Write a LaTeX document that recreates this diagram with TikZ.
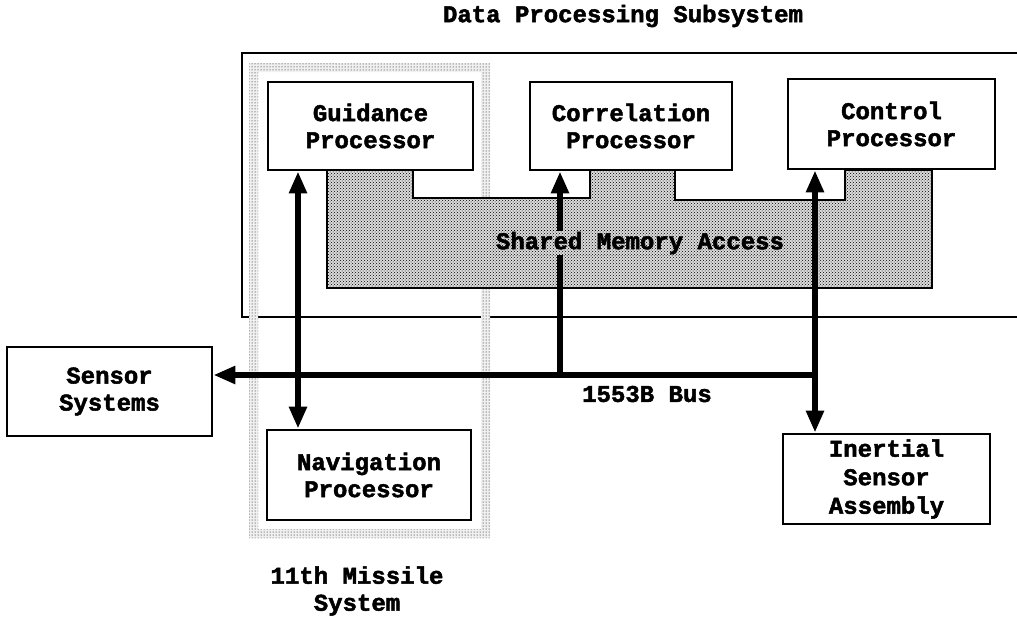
\documentclass[tikz,border=0pt]{standalone}
\usepackage{fontspec}
\setmonofont[BoldFeatures={FakeBold=2}]{Liberation Mono}
\usetikzlibrary{arrows.meta,patterns}
\begin{document}
\begin{tikzpicture}[x=1pt,y=-1pt,
  font=\ttfamily\bfseries\fontsize{24}{27}\selectfont,
  box/.style={draw, line width=2.8pt, fill=white, align=center, inner sep=0pt},
  thk/.style={line width=5.5pt},
  onetip/.style={thk, -{Triangle[length=22pt,width=17pt]}},
  twotip/.style={thk, {Triangle[length=22pt,width=17pt]}-{Triangle[length=22pt,width=17pt]}},
  lbl/.style={inner sep=1pt, align=center},
  shade/.style={preaction={fill=black!14}, pattern=crosshatch dots, pattern color=black}]
\useasboundingbox (0,0) rectangle (1017,619);
% Data processing subsystem frame
\draw[line width=2.4pt] (1017,317) -- (242,317) -- (242,53) -- (1017,53);
\node[lbl] (dps) at (623,16) {Data Processing Subsystem};
% 11th Missile System band (stippled)
\path[fill=black!6, even odd rule]
  (249,63) rectangle (490,538) (258,72) rectangle (481,529);
\path[pattern=dots, pattern color=black, even odd rule]
  (249,63) rectangle (490,538) (258,72) rectangle (481,529);
\node[lbl] (ms) at (357,591) {11th Missile\\System};
% shared memory region
\path[shade]
  (327,170) -- (413,170) -- (413,198) -- (590,198) -- (590,170)
  -- (675,170) -- (675,200) -- (845,200) -- (845,170) -- (932,170) -- (932,288) -- (327,288) -- cycle;
\draw[line width=2.4pt] (327,170) -- (413,170) -- (413,198) -- (590,198) -- (590,170)
  -- (675,170) -- (675,200) -- (845,200) -- (845,170) -- (932,170) -- (932,288) -- (327,288) -- cycle;
% boxes
\node[box, minimum width=205pt, minimum height=88pt] (guid) at (370.5,126) {Guidance\\Processor};
\node[box, minimum width=202pt, minimum height=88pt] (corr) at (631,126) {Correlation\\Processor};
\node[box, minimum width=207pt, minimum height=90pt] (ctrl) at (891.5,124) {Control\\Processor};
\node[box, minimum width=205pt, minimum height=89pt] (sens) at (109.5,391.5) {Sensor\\Systems};
\node[box, minimum width=204pt, minimum height=90pt] (nav) at (369,475) {Navigation\\Processor};
\node[box, minimum width=207pt, minimum height=90pt, font=\ttfamily\bfseries\fontsize{24}{28.5}\selectfont] (ins) at (886.5,479) {Inertial\\Sensor\\Assembly};
% connectors
\coordinate (gx) at (298,0);
\coordinate (busR) at (815,375);
\coordinate (busC) at (560,375);
\draw[twotip] (guid.south -| gx) -- (nav.north -| gx);
\draw[onetip] (busR) -- (sens.east |- busR);
\draw[onetip] (busC) -- (corr.south -| busC);
\draw[twotip] (ctrl.south -| busR) -- (ins.north -| busR);
\node[lbl, shade] (sma) at (640,243) {\phantom{Shared Memory Access}};
\node[lbl] (smatext) at (640,243) {Shared Memory Access};
\node[lbl] (bus) at (647,394) {1553B Bus};
\end{tikzpicture}
\end{document}
